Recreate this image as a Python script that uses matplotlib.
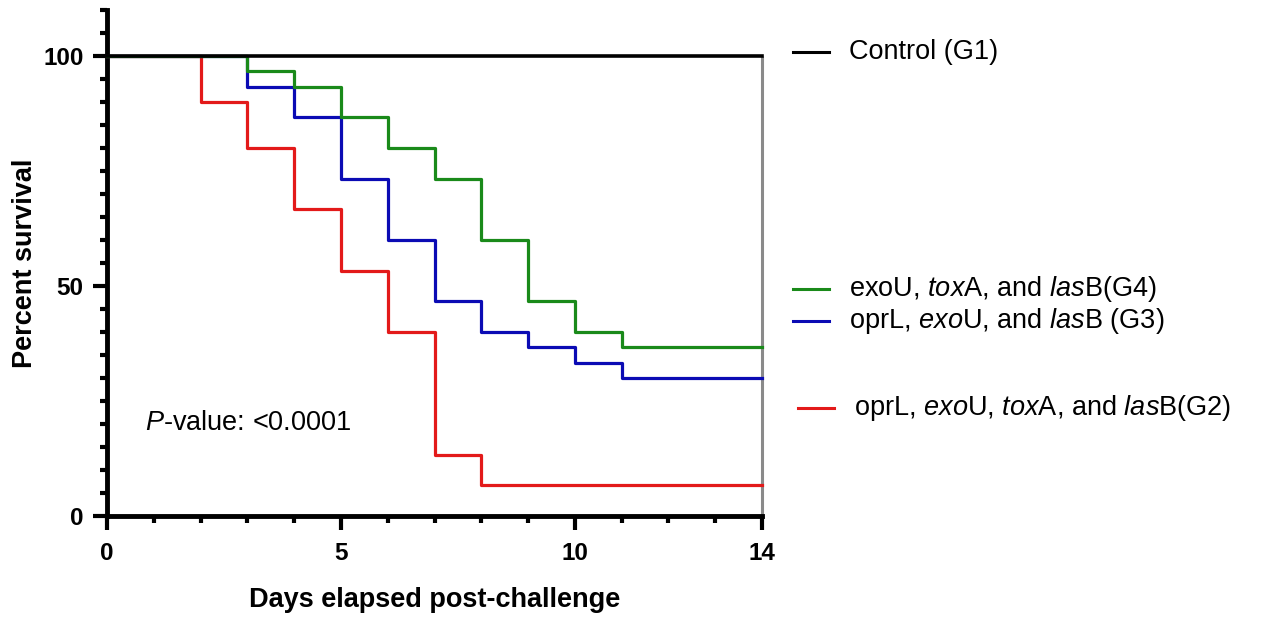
import matplotlib
matplotlib.use('Agg')
import matplotlib.pyplot as plt
from matplotlib.lines import Line2D

plt.rcParams['font.family'] = ['Liberation Sans', 'DejaVu Sans']
plt.rcParams['mathtext.fontset'] = 'custom'
plt.rcParams['mathtext.rm'] = 'Liberation Sans'
plt.rcParams['mathtext.it'] = 'Liberation Sans:italic'

# survival data (days, percent survival)
days_g1 = [0, 14]
surv_g1 = [100, 100]

days_g2 = [0, 2, 3, 4, 5, 6, 7, 8, 14]
surv_g2 = [100, 90, 80, 66.7, 53.3, 40, 13.3, 6.7, 6.7]

days_g3 = [0, 3, 4, 5, 6, 7, 8, 9, 10, 11, 14]
surv_g3 = [100, 93.3, 86.7, 73.3, 60, 46.7, 40, 36.7, 33.3, 30, 30]

days_g4 = [0, 3, 4, 5, 6, 7, 8, 9, 10, 11, 14]
surv_g4 = [100, 96.7, 93.3, 86.7, 80, 73.3, 60, 46.7, 40, 36.7, 36.7]

labels = ["Control (G1)",
          r"exoU, $\it{tox}$A, and $\it{las}$B(G4)",
          r"oprL, $\it{exo}$U, and $\it{las}$B (G3)",
          r"oprL, $\it{exo}$U, $\it{tox}$A, and $\it{las}$B(G2)"]
colors = ["black", "#1a8a1a", "#0b0bb4", "#e31a1a"]

x_major = [0, 5, 10, 14]
y_major = [0, 50, 100]

W, H = 1262, 621
fig = plt.figure(figsize=(W / 100, H / 100), dpi=100)
ax = fig.add_axes([107 / W, 1 - 516 / H, (762 - 107) / W, (516 - 10) / H])

lw = 2.3
ax.step(days_g2, surv_g2, where='post', color=colors[3], lw=lw, clip_on=False, zorder=3)
ax.step(days_g3, surv_g3, where='post', color=colors[2], lw=lw, clip_on=False, zorder=4)
ax.step(days_g4, surv_g4, where='post', color=colors[1], lw=lw, clip_on=False, zorder=5)
ax.step(days_g1, surv_g1, where='post', color=colors[0], lw=lw + 0.3, clip_on=False, zorder=6)
ax.vlines(14, 0, 100, color='#8a8a8a', lw=2.2, zorder=2, clip_on=False)

ax.set_xlim(0, 14)
ax.set_ylim(0, 110)
for s in ['top', 'right']:
    ax.spines[s].set_visible(False)
for s in ['left', 'bottom']:
    ax.spines[s].set_linewidth(3.5)
    ax.spines[s].set_capstyle('projecting')

ax.set_xticks(x_major)
ax.set_xticks(range(0, 15), minor=True)
ax.set_yticks(y_major)
ax.set_yticks(range(0, 111, 5), minor=True)
ax.tick_params(which='major', length=10, width=3, labelsize=17.5, pad=7)
ax.tick_params(which='minor', length=5, width=3)
ax.tick_params(axis='x', pad=9)
for t in ax.get_xticklabels() + ax.get_yticklabels():
    t.set_fontweight('bold')

ax.set_xlabel("Days elapsed post-challenge", fontsize=19.5, fontweight='bold')
ax.xaxis.set_label_coords(0.5, -0.14)
ax.set_ylabel("Percent survival", fontsize=19.5, fontweight='bold')
ax.yaxis.set_label_coords(-0.105, 0.5)

fig.text(145 / W, 1 - 423 / H, r"$\it{P}$-value: <0.0001", fontsize=19.5,
         va='center', ha='left')

# legend entries placed next to curve ends
legend_y = [52, 289, 321, 408]
legend_x0 = [793, 793, 793, 798]
for lab, col, yy, x0 in zip(labels, colors, legend_y, legend_x0):
    fig.add_artist(Line2D([x0 / W, (x0 + 36) / W], [1 - yy / H, 1 - yy / H],
                          color=col, lw=2.2))
    fig.text((x0 + 56) / W, 1 - yy / H, lab, fontsize=19.5, va='center', ha='left')

fig.savefig("out.png", dpi=100)
